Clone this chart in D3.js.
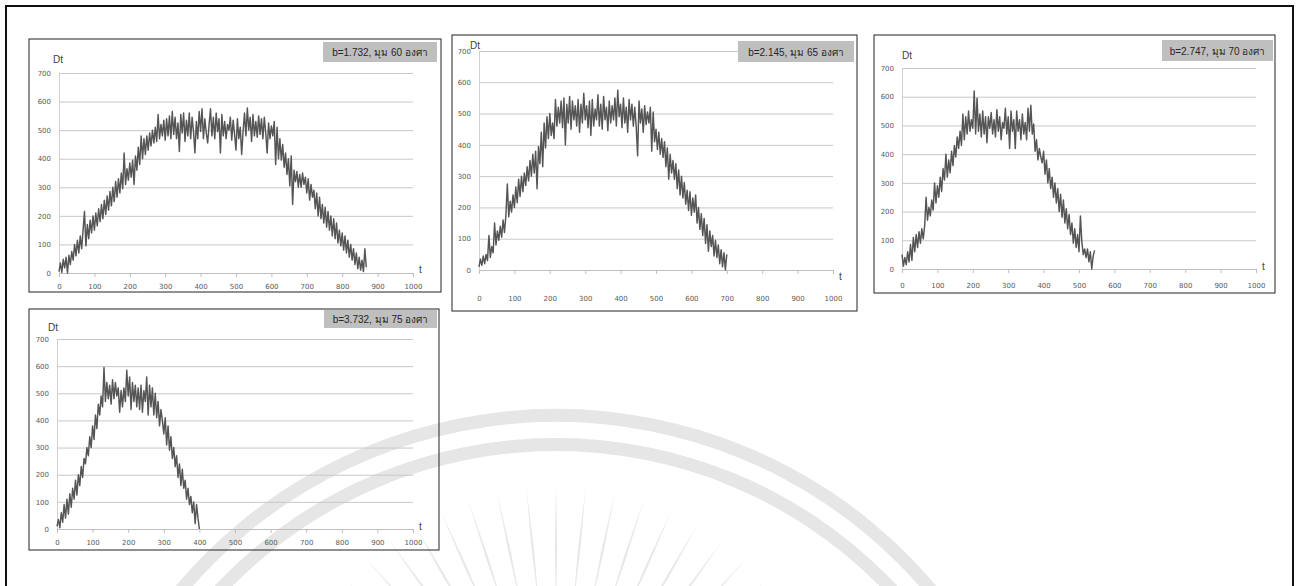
<!DOCTYPE html>
<html>
<head>
<meta charset="utf-8">
<script src="https://cdn.jsdelivr.net/npm/d3@7"></script>
<style>
  body { margin: 0; background: #fff; }
  svg { display: block; }
  .tick text { font-family: "DejaVu Sans", sans-serif; font-size: 7px; }
  .lbl { font-family: "Liberation Sans", Arial, sans-serif; font-size: 10px; fill: #404040; }
  .ttl { font-family: "Liberation Sans", "Noto Sans", sans-serif; font-size: 10px; fill: #262626; }
</style>
</head>
<body>
<svg id="chart" width="1299" height="586"></svg>
<script>
var tStep = 4;

var dt60 = [5,35,2,48,18,55,0,62,30,75,
  45,100,60,115,70,130,85,150,215,95,
  170,120,185,140,200,150,210,165,225,180,
  240,190,255,205,270,220,285,235,300,250,
  320,265,330,280,350,295,420,310,365,325,
  385,335,395,310,410,360,440,380,480,400,
  470,415,480,430,490,445,500,455,510,460,
  555,470,520,480,535,465,540,480,550,470,
  565,485,545,470,525,425,555,490,560,460,
  535,480,560,470,545,495,420,530,470,565,
  495,575,470,540,490,455,520,575,480,545,
  470,560,495,540,420,555,480,530,470,520,
  500,545,465,535,485,430,540,470,510,415,
  495,560,480,578,500,545,460,555,480,530,
  475,550,485,540,470,545,490,420,525,470,
  515,480,530,380,510,400,470,395,450,370,
  420,345,400,305,410,240,360,320,355,300,
  345,300,350,310,335,280,330,255,310,265,
  290,225,280,200,265,190,240,175,230,160,
  215,150,200,130,190,120,175,105,150,95,
  140,80,130,70,115,55,100,45,85,30,
  70,15,55,10,45,5,85,20];

var dt65 = [10,35,15,45,20,50,30,110,40,75,
  55,150,80,125,95,140,105,160,120,175,
  275,170,220,185,240,200,265,215,290,235,
  300,250,310,270,330,285,350,300,370,310,
  380,260,395,340,440,330,470,390,490,420,
  500,430,470,420,545,460,520,470,540,455,
  550,400,530,470,555,450,540,480,525,460,
  545,440,530,470,565,480,525,455,540,430,
  545,460,515,480,560,460,530,450,555,480,
  520,445,540,470,525,480,550,460,575,490,
  530,455,550,470,520,440,545,480,530,460,
  520,460,365,540,470,515,440,525,465,505,
  470,520,380,505,410,450,385,440,370,420,
  360,410,330,390,290,370,310,350,290,340,
  260,320,240,300,230,280,210,255,190,250,
  175,230,185,240,150,200,130,180,110,165,
  85,145,60,125,75,110,45,95,40,80,
  20,65,10,55,0,50];

var dt70 = [50,10,40,15,60,25,85,30,110,60,
  120,75,130,90,140,105,150,250,170,215,
  185,240,205,300,230,290,250,320,270,350,
  310,400,320,380,335,410,360,430,390,460,
  420,480,430,540,450,530,470,550,480,520,
  490,620,470,595,480,540,460,550,470,530,
  440,530,490,545,470,520,460,555,480,530,
  450,510,490,560,470,530,420,550,480,520,
  420,550,480,520,450,540,470,510,450,560,
  480,570,470,505,410,450,380,420,390,370,
  410,330,380,300,350,280,320,250,300,230,
  280,200,260,180,240,160,210,140,190,120,
  160,90,140,75,120,60,185,95,50,70,
  40,70,25,60,0,45,65];

var dt75 = [10,35,5,60,25,90,40,110,55,130,
  80,150,110,180,125,200,160,230,190,260,
  240,300,270,340,300,380,330,420,370,460,
  420,490,450,595,470,540,480,530,460,550,
  480,540,490,520,430,510,450,520,470,585,
  490,560,440,540,470,530,450,520,440,530,
  430,510,470,560,420,530,450,520,420,500,
  410,470,380,440,400,350,410,310,380,290,
  340,260,300,230,270,190,240,160,220,150,
  180,110,150,90,120,60,100,20,90,40,
  0];

var series = [dt60, dt65, dt70, dt75];
var titles = ["b=1.732, มุม 60 องศา", "b=2.145, มุม 65 องศา", "b=2.747, มุม 70 องศา", "b=3.732, มุม 75 องศา"];
var xTicks = [0, 100, 200, 300, 400, 500, 600, 700, 800, 900, 1000];
var yTicks = [0, 100, 200, 300, 400, 500, 600, 700];

// where each small chart sits on the page
var panels = [
  { fx: 29,  fy: 39,  fw: 412, fh: 253, x0: 59,  x1: 413,  yTop: 73,  yBot: 273, bx: 323,  by: 42,  bw: 114, bh: 20, dx: 53,  dy: 63,  tx: 419,  ty: 273, lab: 290 },
  { fx: 452, fy: 35,  fw: 405, fh: 276, x0: 479, x1: 833,  yTop: 51,  yBot: 270, bx: 738,  by: 41,  bw: 116, bh: 21, dx: 470, dy: 49,  tx: 839,  ty: 280, lab: 302 },
  { fx: 874, fy: 35,  fw: 401, fh: 258, x0: 902, x1: 1256, yTop: 68,  yBot: 269, bx: 1162, by: 40,  bw: 111, bh: 21, dx: 902, dy: 59,  tx: 1262, ty: 270, lab: 289 },
  { fx: 29,  fy: 309, fw: 410, fh: 241, x0: 57,  x1: 413,  yTop: 339, yBot: 529, bx: 324,  by: 310, bw: 113, bh: 18, dx: 48,  dy: 331, tx: 419,  ty: 530, lab: 546 }
];

var svg = d3.select("#chart");

// faint watermark behind everything
var wm = svg.append("g").attr("fill", "#e6e6e6");
var wcx = 556, wcy = 906;
[[484, 497], [455, 468]].forEach(function(r) {
  wm.append("path")
    .attr("transform", "translate(" + wcx + "," + wcy + ")")
    .attr("d", d3.arc().innerRadius(r[0]).outerRadius(r[1]).startAngle(-Math.PI / 2).endAngle(Math.PI / 2)());
});
var rays = wm.append("g").attr("transform", "translate(" + wcx + ",770)");
d3.range(-66, 67, 6).forEach(function(a) {
  var rad = a * Math.PI / 180, r1 = 160, r2 = 285, w = 0.04;
  var pts = [[r1, 0], [(r1 + r2) / 2, w], [r2, 0], [(r1 + r2) / 2, -w]].map(function(p) {
    var ang = rad + p[1] * 180 / p[0] / 6;
    return [p[0] * Math.sin(ang), -p[0] * Math.cos(ang)];
  });
  rays.append("path").attr("d", "M" + pts.join("L") + "Z").attr("fill", "#e8e8e8");
});

// outer frame of the figure
svg.append("path")
  .attr("d", "M6,600V6H1293V600")
  .attr("fill", "none")
  .attr("stroke", "#111")
  .attr("stroke-width", 2);

panels.forEach(function(p, k) {
  var g = svg.append("g");

  g.append("rect")
    .attr("x", p.fx).attr("y", p.fy).attr("width", p.fw).attr("height", p.fh)
    .attr("fill", "#fff").attr("fill-opacity", k == 3 ? 0 : 1)
    .attr("stroke", "#222").attr("stroke-width", 1);

  var xScale = d3.scaleLinear().domain([0, 1000]).range([p.x0, p.x1]);
  var yScale = d3.scaleLinear().domain([0, 700]).range([p.yBot, p.yTop]);

  // grid + y labels
  var ya = g.append("g")
    .attr("transform", "translate(" + p.x0 + ",0)")
    .call(d3.axisLeft(yScale).tickValues(yTicks).tickSize(-(p.x1 - p.x0)).tickPadding(8));
  ya.select(".domain").attr("stroke", "#d0d0d0");
  ya.selectAll(".tick line").attr("stroke", "#c8c8c8");
  ya.selectAll(".tick text").attr("fill", "#595959");

  // x axis
  var xa = g.append("g")
    .attr("transform", "translate(0," + p.yBot + ")")
    .call(d3.axisBottom(xScale).tickValues(xTicks).tickFormat(d3.format("d"))
      .tickSize(4).tickSizeOuter(0).tickPadding(p.lab - p.yBot - 10));
  xa.select(".domain").attr("stroke", "#bfbfbf");
  xa.selectAll(".tick line").attr("stroke", "#bfbfbf");
  xa.selectAll(".tick text").attr("fill", "#595959");

  var line = d3.line()
    .x(function(d, i) { return xScale(i * tStep); })
    .y(function(d) { return yScale(d); });

  g.append("path")
    .datum(series[k])
    .attr("fill", "none")
    .attr("stroke", "#555")
    .attr("stroke-width", 1.45)
    .attr("stroke-linejoin", "round")
    .attr("d", line);

  g.append("rect")
    .attr("x", p.bx).attr("y", p.by).attr("width", p.bw).attr("height", p.bh)
    .attr("fill", "#bfbfbf");
  g.append("text").attr("class", "ttl")
    .attr("x", p.bx + p.bw / 2).attr("y", p.by + p.bh / 2 + 4)
    .attr("text-anchor", "middle")
    .text(titles[k]);

  g.append("text").attr("class", "lbl").attr("x", p.dx).attr("y", p.dy).text("Dt");
  g.append("text").attr("class", "lbl").attr("x", p.tx).attr("y", p.ty).text("t");
});
</script>
</body>
</html>
